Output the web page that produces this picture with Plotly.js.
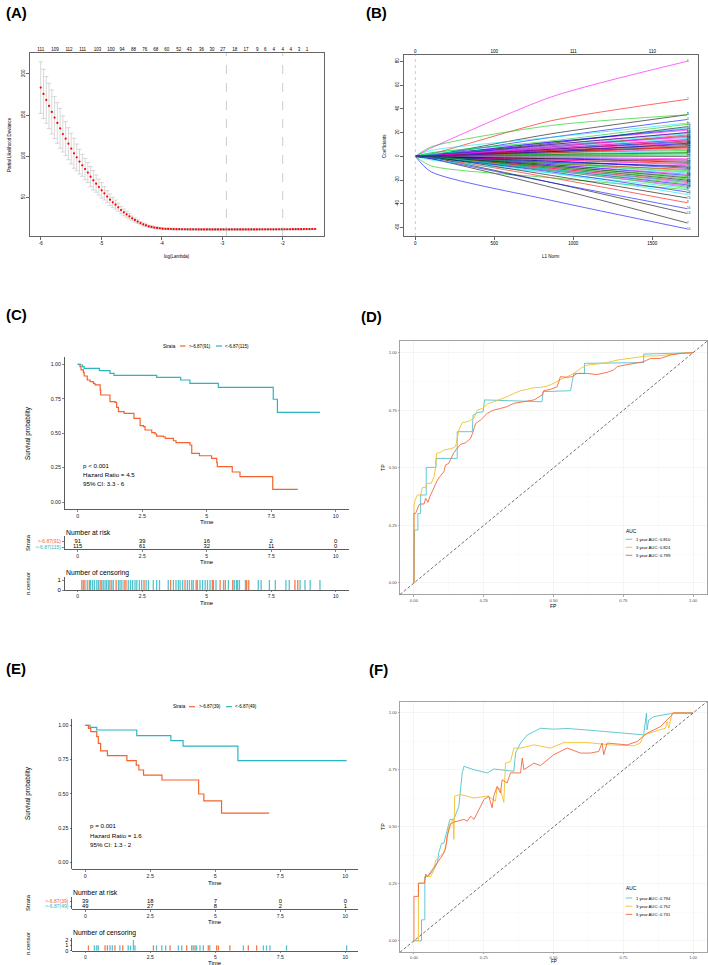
<!DOCTYPE html>
<html><head><meta charset="utf-8">
<script src="https://cdn.plot.ly/plotly-3.0.1.min.js"></script>
<style>html,body{margin:0;padding:0;background:#fff}#chart{width:708px;height:965px}</style>
</head><body><div id="chart"></div>
<script>
// ================= DATA =================
// Panel A: LASSO cross-validation
const logLambda=[-6.000,-5.954,-5.908,-5.863,-5.817,-5.771,-5.725,-5.679,-5.634,-5.588,
-5.542,-5.496,-5.450,-5.405,-5.359,-5.313,-5.267,-5.221,-5.176,-5.130,
-5.084,-5.038,-4.992,-4.947,-4.901,-4.855,-4.809,-4.763,-4.718,-4.672,
-4.626,-4.580,-4.534,-4.489,-4.443,-4.397,-4.351,-4.305,-4.260,-4.214,
-4.168,-4.122,-4.076,-4.031,-3.985,-3.939,-3.893,-3.847,-3.802,-3.756,
-3.710,-3.664,-3.618,-3.573,-3.527,-3.481,-3.435,-3.389,-3.344,-3.298,
-3.252,-3.206,-3.160,-3.115,-3.069,-3.023,-2.977,-2.931,-2.886,-2.840,
-2.794,-2.748,-2.702,-2.657,-2.611,-2.565,-2.519,-2.473,-2.428,-2.382,
-2.336,-2.290,-2.244,-2.199,-2.153,-2.107,-2.061,-2.015,-1.970,-1.924,
-1.878,-1.832,-1.786,-1.741,-1.695,-1.649,-1.603,-1.557,-1.512,-1.466];
const partialDev=[183.4,175.7,168.4,161.1,153.8,146.9,140.4,133.9,127.0,121.3,
115.2,109.2,103.5,98.6,93.4,88.9,84.4,80.0,75.1,70.6,
66.6,62.5,58.5,54.8,50.8,47.1,43.9,41.0,37.8,34.5,
31.7,29.3,26.8,24.4,22.4,20.4,18.7,17.1,15.9,14.7,
13.9,13.1,12.7,12.3,11.8,11.6,11.5,11.4,11.3,11.2,
11.2,11.1,11.1,11.0,11.0,11.0,11.0,10.9,10.9,10.9,
10.9,10.9,10.9,10.9,10.9,10.9,10.9,10.9,10.9,10.9,
10.9,10.9,10.9,10.9,10.9,10.9,10.9,10.9,10.9,11.0,
11.0,11.0,11.0,11.0,11.0,11.0,11.1,11.1,11.1,11.1,
11.1,11.2,11.2,11.2,11.2,11.3,11.3,11.3,11.4,11.4];
const devSE=[31.4,30.0,28.4,27.6,26.8,25.5,24.7,24.3,22.0,20.7,
19.5,18.7,18.2,16.2,15.0,13.4,13.0,12.2,12.2,11.8,
10.5,9.7,9.3,8.1,7.3,6.9,6.1,5.5,5.0,4.5,
4.0,3.6,3.2,2.8,2.5,2.2,2.0,1.8,1.6,1.4,
1.3,1.2,1.1,1.0,1.0,0.9,0.9,0.9,0.9,0.9,
0.9,0.9,0.9,0.9,0.9,0.9,0.9,0.9,0.9,0.9,
0.8,0.8,0.8,0.8,0.8,0.8,0.8,0.8,0.8,0.8,
0.8,0.8,0.8,0.8,0.8,0.8,0.8,0.8,0.8,0.8,
0.7,0.7,0.7,0.7,0.7,0.7,0.7,0.7,0.7,0.7,
0.7,0.7,0.7,0.7,0.7,0.7,0.7,0.7,0.7,0.7];
const lambdaMin=-2.93, lambda1se=-2.0;
const nzeroPos=[-6.000,-5.763,-5.532,-5.306,-5.063,-4.837,-4.656,-4.468,-4.281,-4.099,-3.917,-3.719,-3.543,-3.344,-3.168,-2.992,-2.793,-2.606,-2.419,-2.287,-2.149,-2.000,-1.868,-1.730,-1.598];
const nzeroLab=['111','109','112','111','103','100','94','88','76','68','60','52','43','36','30','27','18','17','9','6','4','4','4','3','1'];

// Panel B: coefficient paths (values at L1 norm nodes)
const l1Nodes=[0,100,860,1720];
const coefEarly=[1,2,8,1,5,7,-2,-1,-8,-13,3,1,-1,1,3,-2,-3,-1,1,1,2,1,2,-1,-1,0.5,-1,-1,1,0.5,0.5,0.5,-0.5,-1,1,-0.5,0.5,0.5,-0.5,0.5,-0.5,0.5,-0.5,-0.5,0.5,-0.5,0.5,-0.5,0.3,-0.3,0.3,-0.3,0.2,-0.2,0.2,-0.5,-0.5,-0.3,0.5,0.5,-0.5,-0.5,-0.5,0.5,-0.5,0.5,-0.5,0.5,0.3,-0.5,-1,0.5,-0.5,0.5,-0.5,0.3];
const coefMid=[19,30,26,16,16,50,-26,-18,-18,-37,12,12,-22,10,13,-22,-14,-12,11,8,9,12,8,-10,-9,7,-12,-13,7,6,5,6,-8,-11,4,-7,4,4,-5,6,-6,3,-4,-3,3,-4,2,-3,1.5,-2,1,-1.5,0.5,-0.8,0.3,-6,-9,-7,9,9,-8,-10,-11,10,-11,7,-2,5,2,-5,-14,8,-16,3,-6,4];
const coefEnd=[35,48,35,31,28,80,-56,-39,-28,-61,24,22,-48,20,27,-44,-27,-25,25,18,17,23,15,-22,-20,14,-26,-30,12,11,10,12,-17,-24,9,-15,8,7,-12,13,-14,6,-9,-6,5,-10,4,-7,3,-4,2,-3,1,-2,0,-11,-19,-16,19,16,-18,-21,-23,20,-21,14,-5,9,3,-8,-32,17,-35,8,-13,11];
const dfPos=[0,500,1000,1500];
const dfLab=['0','100','111','110'];

// Panel C: training KM
const strataC=['>-6.87(91)','<-6.87(115)'];
const kmC_highT=[0,0.09,0.13,0.22,0.25,0.37,0.48,0.61,0.67,0.87,0.89,1.25,1.45,1.51,1.58,1.80,2.18,2.42,2.55,2.61,2.87,3.00,3.06,3.32,3.39,3.71,3.81,4.35,4.42,4.72,5.19,5.39,5.41,5.99,6.29,7.56,8.53];
const kmC_highS=[1,0.983,0.959,0.939,0.915,0.886,0.874,0.862,0.850,0.813,0.777,0.729,0.724,0.687,0.656,0.644,0.608,0.554,0.547,0.523,0.504,0.494,0.479,0.474,0.462,0.445,0.431,0.414,0.353,0.336,0.317,0.286,0.257,0.218,0.184,0.092,0.092];
const kmC_lowT=[0,0.09,0.19,0.25,0.84,1.25,1.41,3.06,3.99,4.35,5.45,7.58,7.74,9.39];
const kmC_lowS=[1,0.995,0.983,0.971,0.954,0.934,0.920,0.905,0.886,0.862,0.833,0.746,0.651,0.651];
const riskTimes=[0,2.5,5,7.5,10];
const riskC_high=[91,39,16,2,0];
const riskC_low=[115,61,32,11,0];
const censC_high=[0.16,0.28,0.45,0.87,1.25,1.49,1.80,1.87,2.57,3.60,4.16,4.59,5.22,5.26,5.52,5.72,6.01,6.55,6.63,8.42,8.53];
const censC_low=[0.22,0.37,0.50,0.58,0.65,0.74,0.80,0.93,0.99,1.06,1.12,1.19,1.32,1.38,1.58,1.64,1.71,1.96,2.05,2.13,2.22,2.29,2.39,2.48,2.65,2.74,2.93,3.06,3.17,3.51,3.71,3.81,3.90,3.97,4.07,4.25,4.33,4.42,4.48,4.64,4.74,4.84,4.94,5.03,5.13,5.36,5.65,5.84,6.07,6.16,6.20,6.27,6.50,7.00,7.11,7.43,7.66,8.07,8.20,8.62,8.81,9.01,9.39];
const statsC=['p < 0.001','Hazard Ratio = 4.5','95% CI: 3.3 - 6'];

// Panel D: training ROC
const aucD=['1 year AUC: 0.810','3 year AUC: 0.824','5 year AUC: 0.799'];
const roc1D_FP=[0,0.002,0.002,0.014,0.014,0.024,0.024,0.044,0.044,0.079,0.079,0.155,0.155,0.209,0.212,0.229,0.248,0.253,0.459,0.463,0.561,0.567,0.573,0.611,0.611,0.823,0.823,1.0];
const roc1D_TP=[0,0.187,0.230,0.230,0.302,0.302,0.382,0.382,0.502,0.502,0.541,0.541,0.657,0.657,0.729,0.740,0.744,0.795,0.787,0.831,0.835,0.874,0.910,0.910,0.954,0.957,0.994,1.0];
const roc3D_FP=[0,0,0.004,0.012,0.024,0.030,0.042,0.048,0.062,0.072,0.078,0.081,0.095,0.107,0.137,0.149,0.161,0.173,0.197,0.215,0.227,0.245,0.263,0.286,0.310,0.334,0.358,0.382,0.406,0.430,0.453,0.477,0.501,0.525,0.549,0.573,0.597,0.621,0.656,0.692,0.728,0.764,0.800,0.835,0.871,0.919,0.955,1.0];
const roc3D_TP=[0,0.331,0.360,0.382,0.382,0.415,0.415,0.433,0.433,0.462,0.505,0.563,0.567,0.577,0.585,0.592,0.664,0.696,0.703,0.715,0.751,0.758,0.777,0.787,0.797,0.809,0.823,0.835,0.841,0.848,0.849,0.855,0.867,0.884,0.896,0.910,0.932,0.946,0.951,0.957,0.968,0.975,0.980,0.986,0.986,0.994,0.997,1.0];
const roc5D_FP=[0,0,0.006,0.012,0.018,0.024,0.036,0.042,0.050,0.057,0.066,0.072,0.078,0.084,0.093,0.101,0.107,0.113,0.125,0.131,0.143,0.155,0.167,0.185,0.197,0.203,0.212,0.221,0.239,0.251,0.263,0.274,0.286,0.310,0.334,0.358,0.394,0.430,0.459,0.465,0.489,0.513,0.525,0.549,0.567,0.585,0.621,0.656,0.692,0.716,0.728,0.788,0.823,0.847,0.883,0.919,0.955,1.0];
const roc5D_TP=[0,0.302,0.302,0.317,0.339,0.343,0.343,0.368,0.350,0.375,0.397,0.415,0.433,0.447,0.462,0.476,0.483,0.512,0.520,0.537,0.566,0.585,0.602,0.609,0.621,0.628,0.657,0.693,0.708,0.722,0.737,0.744,0.751,0.758,0.766,0.780,0.787,0.795,0.816,0.835,0.841,0.852,0.896,0.893,0.896,0.910,0.910,0.905,0.915,0.925,0.940,0.954,0.961,0.975,0.975,0.990,0.997,1.0];

// Panel E: validation KM
const strataE=['>-6.87(39)','<-6.87(49)'];
const kmE_highT=[0,0.12,0.21,0.44,0.50,0.59,0.85,1.60,1.96,2.06,2.24,2.95,4.36,4.56,5.24,7.07];
const kmE_highS=[1,0.978,0.954,0.917,0.869,0.813,0.779,0.742,0.710,0.674,0.637,0.601,0.499,0.448,0.360,0.360];
const kmE_lowT=[0,0.18,0.44,1.98,3.29,3.76,5.87,10.05];
const kmE_lowS=[1,0.985,0.966,0.925,0.888,0.849,0.742,0.742];
const riskE_high=[39,18,7,0,0];
const riskE_low=[49,27,8,2,1];
const censE_high=[0.12,0.76,0.85,1.14,1.44,2.62,3.26,3.90,4.22,4.73,5.05,5.12,5.56,6.27,6.59];
const censE_low=[0.35,0.44,0.50,0.95,1.04,1.33,1.65,1.74,1.85,1.85,1.91,2.74,2.94,3.09,3.58,3.71,4.09,4.15,4.28,4.41,4.54,4.79,6.08,6.85,6.97,7.10,7.74,10.05];
const statsE=['p = 0.001','Hazard Ratio = 1.6','95% CI: 1.3 - 2'];

// Panel F: validation ROC
const aucF=['1 year AUC: 0.794','3 year AUC: 0.752','5 year AUC: 0.731'];
const roc1F_FP=[0,0.027,0.027,0.039,0.039,0.050,0.072,0.084,0.089,0.099,0.107,0.122,0.129,0.143,0.155,0.161,0.165,0.173,0.179,0.215,0.263,0.286,0.358,0.364,0.382,0.406,0.430,0.453,0.501,0.549,0.644,0.740,0.823,0.833,0.835,0.841,0.859,0.931,1.0];
const roc1F_TP=[0,0,0.092,0.092,0.282,0.282,0.314,0.344,0.387,0.428,0.428,0.504,0.533,0.533,0.576,0.591,0.642,0.737,0.766,0.751,0.737,0.754,0.744,0.824,0.868,0.904,0.918,0.933,0.929,0.932,0.923,0.914,0.904,0.999,0.926,0.969,0.984,1.0,1.0];
const roc3F_FP=[0,0.016,0.016,0.036,0.042,0.060,0.072,0.078,0.095,0.107,0.117,0.125,0.140,0.143,0.146,0.167,0.215,0.263,0.280,0.292,0.298,0.310,0.322,0.328,0.346,0.358,0.382,0.430,0.489,0.537,0.621,0.704,0.788,0.811,0.823,0.883,0.901,0.907,0.913,0.925,1.0];
const roc3F_TP=[0,0,0.253,0.253,0.282,0.282,0.314,0.355,0.373,0.387,0.431,0.504,0.533,0.445,0.635,0.642,0.627,0.635,0.623,0.613,0.671,0.667,0.608,0.780,0.787,0.846,0.846,0.860,0.846,0.870,0.870,0.860,0.856,0.868,0.904,0.926,0.933,0.962,0.933,1.0,1.0];
const roc5F_FP=[0,0,0.016,0.016,0.038,0.042,0.048,0.066,0.084,0.101,0.113,0.119,0.131,0.143,0.179,0.191,0.203,0.215,0.227,0.251,0.268,0.280,0.286,0.298,0.310,0.316,0.334,0.346,0.382,0.388,0.394,0.430,0.453,0.501,0.549,0.597,0.632,0.662,0.674,0.680,0.692,0.764,0.800,0.835,0.883,0.907,0.931,1.0];
const roc5F_TP=[0,0.195,0.195,0.253,0.253,0.293,0.282,0.314,0.344,0.373,0.402,0.460,0.511,0.521,0.533,0.525,0.547,0.533,0.562,0.620,0.635,0.584,0.635,0.678,0.649,0.707,0.693,0.737,0.737,0.802,0.751,0.780,0.769,0.817,0.846,0.824,0.824,0.831,0.868,0.817,0.868,0.860,0.875,0.911,0.940,0.969,1.0,1.0];

// ================= STYLE / LAYOUT =================
const W=708,H=965;
const FONT='Liberation Sans, Arial, Helvetica, sans-serif';
const COL_HIGH='#F4632C', COL_LOW='#2BB5C2';
const ROC1='#52C3CD', ROC3='#F2C12E', ROC5='#F4683F';
const PAL=['#000000','#FF0000','#00CD00','#0000FF','#00E5EE','#FF00FF'];
const X=(a,b)=>[a/W,b/W];
const Y=(t,b)=>[1-b/H,1-t/H];
const esc=s=>s.replace(/</g,'&lt;').replace(/>/g,'&gt;');

const rbase={showgrid:false,zeroline:false,showline:true,mirror:true,linecolor:'#000',linewidth:0.6,
  ticks:'outside',ticklen:3,tickwidth:0.6,tickcolor:'#000',tickfont:{size:4.5,color:'#000',family:FONT}};
const kmbase={showgrid:false,zeroline:false,showline:true,mirror:false,linecolor:'#333',linewidth:0.8,
  ticks:'outside',ticklen:2,tickwidth:0.6,tickcolor:'#333',tickfont:{size:5.3,color:'#222',family:FONT}};
const rocbase={showgrid:true,gridcolor:'#EBEBEB',gridwidth:0.5,zeroline:false,showline:true,mirror:true,
  linecolor:'#8C8C8C',linewidth:0.8,ticks:'outside',ticklen:1.5,tickwidth:0.5,tickcolor:'#555',
  tickfont:{size:4.2,color:'#4D4D4D',family:FONT},range:[-0.05,1.05],
  tickvals:[0,0.25,0.5,0.75,1],ticktext:['0.00','0.25','0.50','0.75','1.00'],
  minor:{tickvals:[0.125,0.375,0.625,0.875],showgrid:true,gridcolor:'#F5F5F5',gridwidth:0.4,ticks:''}};
const timeTicks={tickvals:riskTimes,ticktext:['0','2.5','5','7.5','10'],range:[-0.5,10.5]};
const smallTicks={ticklen:1.5,tickfont:{size:5,color:'#222',family:FONT}};

const traces=[];
// ---- A
traces.push({type:'scatter',mode:'markers',x:logLambda,y:partialDev,xaxis:'x',yaxis:'y',
  marker:{color:'#FF0000',size:2.2},
  error_y:{type:'data',array:devSE,visible:true,color:'#BDBDBD',thickness:0.6,width:2.2},hoverinfo:'skip'});
traces.push({type:'scatter',mode:'markers',x:[nzeroPos[0]],y:[null],xaxis:'x2',yaxis:'y',showlegend:false,hoverinfo:'skip'});
// ---- B
coefEnd.forEach((e,i)=>{
  traces.push({type:'scatter',mode:'lines',x:l1Nodes,y:[0,coefEarly[i],coefMid[i],e],xaxis:'x3',yaxis:'y3',
    line:{color:PAL[i%6],width:0.6,shape:'spline',smoothing:0.7},hoverinfo:'skip'});
});
traces.push({type:'scatter',mode:'text',x:coefEnd.map(()=>l1Nodes[l1Nodes.length-1]),y:coefEnd,
  text:coefEnd.map((e,i)=>String(i+1)),textposition:'middle right',textfont:{size:2.8,color:'#222',family:FONT},
  xaxis:'x3',yaxis:'y3',hoverinfo:'skip'});
traces.push({type:'scatter',mode:'markers',x:[dfPos[0]],y:[null],xaxis:'x4',yaxis:'y3',showlegend:false,hoverinfo:'skip'});

// ---- KM helpers
function count(arr){const m=new Map();arr.forEach(v=>m.set(v,(m.get(v)||0)+1));return [[...m.keys()],[...m.values()]];}
function kmPanel(ax,hT,hS,lT,lS,rax,rH,rL,cax,cH,cL){
  traces.push({type:'scatter',mode:'lines',x:hT,y:hS,xaxis:'x'+ax,yaxis:'y'+ax,line:{color:COL_HIGH,width:1.2,shape:'hv'},hoverinfo:'skip'});
  traces.push({type:'scatter',mode:'lines',x:lT,y:lS,xaxis:'x'+ax,yaxis:'y'+ax,line:{color:COL_LOW,width:1.2,shape:'hv'},hoverinfo:'skip'});
  traces.push({type:'scatter',mode:'text',x:riskTimes,y:riskTimes.map(()=>'high'),text:rH.map(String),
    textfont:{size:5.8,color:'#000',family:FONT},xaxis:'x'+rax,yaxis:'y'+rax,hoverinfo:'skip'});
  traces.push({type:'scatter',mode:'text',x:riskTimes,y:riskTimes.map(()=>'low'),text:rL.map(String),
    textfont:{size:5.8,color:'#000',family:FONT},xaxis:'x'+rax,yaxis:'y'+rax,hoverinfo:'skip'});
  const ch=count(cH), cl=count(cL);
  traces.push({type:'bar',x:cl[0],y:cl[1],width:0.05,marker:{color:COL_LOW},opacity:0.8,xaxis:'x'+cax,yaxis:'y'+cax,hoverinfo:'skip'});
  traces.push({type:'bar',x:ch[0],y:ch[1],width:0.05,marker:{color:COL_HIGH},opacity:0.85,xaxis:'x'+cax,yaxis:'y'+cax,hoverinfo:'skip'});
}
kmPanel(5,kmC_highT,kmC_highS,kmC_lowT,kmC_lowS,6,riskC_high,riskC_low,7,censC_high,censC_low);
kmPanel(9,kmE_highT,kmE_highS,kmE_lowT,kmE_lowS,10,riskE_high,riskE_low,11,censE_high,censE_low);

// ---- ROC
function roc(ax,f1,t1,f3,t3,f5,t5){
  [[f1,t1,ROC1],[f3,t3,ROC3],[f5,t5,ROC5]].forEach(([f,t,c])=>{
    traces.push({type:'scatter',mode:'lines',x:f,y:t,xaxis:'x'+ax,yaxis:'y'+ax,line:{color:c,width:0.9},hoverinfo:'skip'});
  });
}
roc(8,roc1D_FP,roc1D_TP,roc3D_FP,roc3D_TP,roc5D_FP,roc5D_TP);
roc(12,roc1F_FP,roc1F_TP,roc3F_FP,roc3F_TP,roc5F_FP,roc5F_TP);

// ---- layout
const strataTick=(names)=>({type:'category',categoryarray:['low','high'],tickvals:['low','high'],
  ticktext:[`<span style="color:${COL_LOW}">${esc(names[1])}</span>`,`<span style="color:${COL_HIGH}">${esc(names[0])}</span>`]});
const layout={
  width:W,height:H,margin:{l:0,r:0,t:0,b:0},paper_bgcolor:'#fff',plot_bgcolor:'rgba(0,0,0,0)',
  showlegend:false,barmode:'overlay',font:{family:FONT,color:'#000'},
  xaxis:Object.assign({},rbase,{domain:X(30,324),range:[-6.177,-1.317],anchor:'y',tickvals:[-6,-5,-4,-3,-2],ticktext:['-6','-5','-4','-3','-2']}),
  yaxis:Object.assign({},rbase,{domain:Y(53,236),range:[2.9,225.5],anchor:'x',tickvals:[50,100,150,200],tickangle:-90}),
  xaxis2:{overlaying:'x',anchor:'y',side:'top',range:[-6.177,-1.317],tickmode:'array',tickvals:nzeroPos,ticktext:nzeroLab,
    ticks:'',showline:false,showgrid:false,zeroline:false,tickfont:{size:4.5,color:'#000',family:FONT}},
  xaxis3:Object.assign({},rbase,{domain:X(404,698),range:[-71.5,1789],anchor:'y3',tickvals:[0,500,1000,1500]}),
  yaxis3:Object.assign({},rbase,{domain:Y(55,236),range:[-67,85.3],anchor:'x3',tickvals:[-60,-40,-20,0,20,40,60,80],ticktext:['-60','-40','-20','0','20','40','60','80'],tickangle:-90}),
  xaxis4:{overlaying:'x3',anchor:'y3',side:'top',range:[-71.5,1789],tickmode:'array',tickvals:dfPos,ticktext:dfLab,
    ticks:'',showline:false,showgrid:false,zeroline:false,tickfont:{size:4.5,color:'#000',family:FONT}},
  xaxis5:Object.assign({},kmbase,timeTicks,{domain:X(64.8,348.6),anchor:'y5'}),
  yaxis5:Object.assign({},kmbase,{domain:Y(357.4,508.9),range:[-0.05,1.05],anchor:'x5',tickvals:[0,0.25,0.5,0.75,1],ticktext:['0.00','0.25','0.50','0.75','1.00']}),
  xaxis6:Object.assign({},kmbase,timeTicks,smallTicks,{domain:X(64.8,348.6),anchor:'y6'}),
  yaxis6:Object.assign({},kmbase,strataTick(strataC),{domain:Y(536,549.3),range:[-0.4,1.93],anchor:'x6',tickfont:{size:5,family:FONT}}),
  xaxis7:Object.assign({},kmbase,timeTicks,smallTicks,{domain:X(64.8,348.6),anchor:'y7'}),
  yaxis7:Object.assign({},kmbase,{domain:Y(577,590),range:[0,1.3],anchor:'x7',tickvals:[0,1],ticktext:['0','1'],tickfont:{size:6,color:'#000',family:FONT}}),
  xaxis8:Object.assign({},rocbase,{domain:X(400,707),anchor:'y8'}),
  yaxis8:Object.assign({},rocbase,{domain:Y(341.2,594.5),anchor:'x8'}),
  xaxis9:Object.assign({},kmbase,timeTicks,{domain:X(72.3,358.3),anchor:'y9'}),
  yaxis9:Object.assign({},kmbase,{domain:Y(718.5,869.2),range:[-0.05,1.05],anchor:'x9',tickvals:[0,0.25,0.5,0.75,1],ticktext:['0.00','0.25','0.50','0.75','1.00']}),
  xaxis10:Object.assign({},kmbase,timeTicks,smallTicks,{domain:X(72.3,358.3),anchor:'y10'}),
  yaxis10:Object.assign({},kmbase,strataTick(strataE),{domain:Y(897,909.3),range:[-0.52,1.94],anchor:'x10',tickfont:{size:5,family:FONT}}),
  xaxis11:Object.assign({},kmbase,timeTicks,smallTicks,{domain:X(72.3,358.3),anchor:'y11'}),
  yaxis11:Object.assign({},kmbase,{domain:Y(937.9,950.7),range:[0,2.4],anchor:'x11',tickvals:[0,1,2],ticktext:['0','1','2'],tickfont:{size:5.5,color:'#000',family:FONT}}),
  xaxis12:Object.assign({},rocbase,{domain:X(400,707),anchor:'y12',ticklen:1,tickfont:{size:4,color:'#4D4D4D',family:FONT}}),
  yaxis12:Object.assign({},rocbase,{domain:Y(701.6,952.2),anchor:'x12'})
};

// annotations
function T(text,x,y,size,o){return Object.assign({text:text,x:x/W,y:1-y/H,xref:'paper',yref:'paper',showarrow:false,
  font:{size:size,family:FONT,color:'#000'},xanchor:'center',yanchor:'middle',borderpad:0},o||{});}
const anns=[];
[['(A)',5,12],['(B)',365,12],['(C)',5,314],['(D)',360,316],['(E)',5,668],['(F)',368,669]].forEach(([t,x,y])=>
  anns.push(T('<b>'+t+'</b>',x,y,15,{xanchor:'left'})));
anns.push(T('Partial Likelihood Deviance',10,145,4.5,{textangle:-90}));
anns.push(T('log(Lambda)',177,256,4.5));
anns.push(T('Coefficients',384,146,4.5,{textangle:-90}));
anns.push(T('L1 Norm',551,256,4.5));
function kmAnn(cfg){
  anns.push(T('Survival probability',28,cfg.ymid,6.3,{textangle:-90}));
  anns.push(T('Time',cfg.xmid,cfg.timeY,6.2,{yanchor:'top'}));
  cfg.stats.forEach((s,i)=>anns.push(T(s,cfg.sx,cfg.sy+i*9.3,6.2,{xanchor:'left'})));
  anns.push(T('Number at risk',cfg.x0,cfg.riskTitleY,6.8,{xanchor:'left'}));
  anns.push(T('Strata',28,cfg.riskMid,6,{textangle:-90}));
  anns.push(T('Time',cfg.xmid,cfg.riskTimeY,6,{yanchor:'top'}));
  anns.push(T('Number of censoring',cfg.x0,cfg.censTitleY,6.8,{xanchor:'left'}));
  anns.push(T('n.censor',28,cfg.censMid,6,{textangle:-90}));
  anns.push(T('Time',cfg.xmid,cfg.censTimeY,6,{yanchor:'top'}));
  const L=cfg.leg;
  anns.push(T('Strata',L[0],cfg.legY,4.6,{xanchor:'left'}));
  anns.push(T(esc(cfg.names[0]),L[3],cfg.legY,4.6,{xanchor:'left'}));
  anns.push(T(esc(cfg.names[1]),L[6],cfg.legY,4.6,{xanchor:'left'}));
}
kmAnn({ymid:433,xmid:206.7,timeY:517.2,stats:statsC,sx:82,sy:465.3,x0:64.8,riskTitleY:532,riskMid:543,riskTimeY:558.3,
  censTitleY:572.7,censMid:584,censTimeY:599,leg:[162,180,185.5,188,216,222,224],legY:346,names:strataC});
kmAnn({ymid:793,xmid:215,timeY:877.6,stats:statsE,sx:89.5,sy:825.7,x0:72.3,riskTitleY:892,riskMid:903,riskTimeY:918,
  censTitleY:933.3,censMid:944,censTimeY:959.2,leg:[172,189,195,198,226,232,234],legY:706.7,names:strataE});
function rocAnn(fpY,fpAnchor,fpSize,tpY,legTitleY,rows,labels){
  anns.push(T('FP',553.6,fpY,fpSize,{yanchor:fpAnchor}));
  anns.push(T('TP',383,tpY,5.2,{textangle:-90}));
  anns.push(T('AUC',624.7,legTitleY,4.9,{xanchor:'left'}));
  labels.forEach((l,i)=>anns.push(T(l,634.7,rows[i],4.2,{xanchor:'left'})));
}
rocAnn(601.8,'top',5,468,531,[539.3,547.3,555.3],aucD);
rocAnn(965,'bottom',4.6,827,888.7,[898,906.2,914.4],aucF);
layout.annotations=anns;

function PL(x0,x1,y,color,w){return {type:'line',xref:'paper',yref:'paper',x0:x0/W,x1:x1/W,y0:1-y/H,y1:1-y/H,line:{color:color,width:w}};}
const shapes=[
  {type:'line',xref:'x',yref:'y domain',x0:lambdaMin,x1:lambdaMin,y0:0,y1:1,line:{color:'#AAAAAA',width:0.6,dash:'dash'}},
  {type:'line',xref:'x',yref:'y domain',x0:lambda1se,x1:lambda1se,y0:0,y1:1,line:{color:'#AAAAAA',width:0.6,dash:'dash'}},
  {type:'line',xref:'x3',yref:'y3 domain',x0:0,x1:0,y0:0,y1:1,line:{color:'#AAAAAA',width:0.6,dash:'dot'}},
  {type:'line',xref:'x8',yref:'y8',x0:-0.05,y0:-0.05,x1:1.05,y1:1.05,line:{color:'#333',width:0.7,dash:'3px,2px'}},
  {type:'line',xref:'x12',yref:'y12',x0:-0.05,y0:-0.05,x1:1.05,y1:1.05,line:{color:'#333',width:0.7,dash:'3px,2px'}},
  PL(180,185.5,346,COL_HIGH,1.2),PL(216,222,346,COL_LOW,1.2),
  PL(189,195,706.7,COL_HIGH,1.2),PL(226,232,706.7,COL_LOW,1.2)
];
[[539.3,547.3,555.3],[898,906.2,914.4]].forEach(rows=>{
  [ROC1,ROC3,ROC5].forEach((c,i)=>shapes.push(PL(625.7,632.3,rows[i],c,0.9)));
});
layout.shapes=shapes;

Plotly.newPlot('chart',traces,layout,{staticPlot:true,displayModeBar:false});
</script></body></html>
